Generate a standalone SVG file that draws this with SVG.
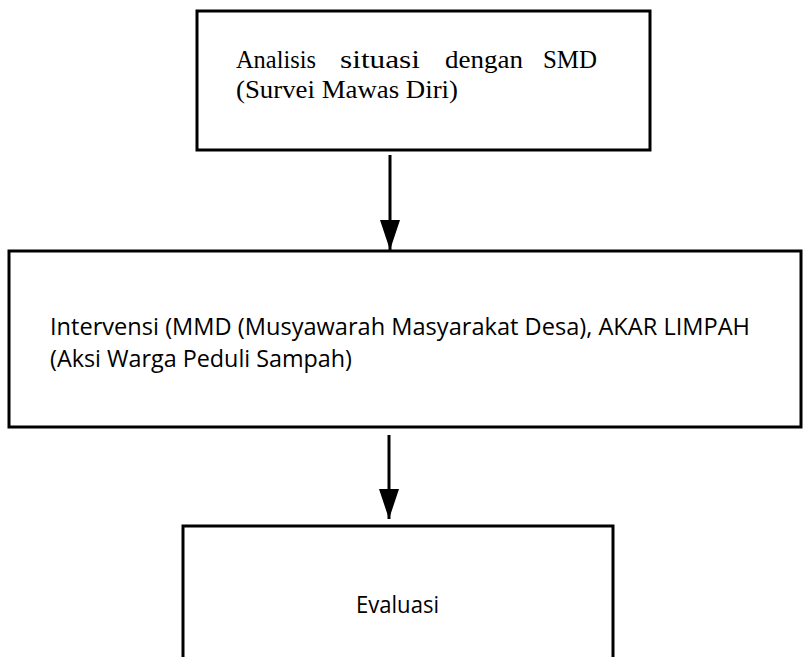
<svg xmlns="http://www.w3.org/2000/svg" width="803" height="657" viewBox="0 0 803 657">
<style>
.box{fill:#fff;stroke:#000;stroke-width:3}
.serif{font-family:"Liberation Serif","DejaVu Serif",serif;font-size:26px;fill:#000}
.sans{font-family:"Open Sans","Noto Sans",sans-serif;font-size:23px;fill:#000}
.line{stroke:#000;stroke-width:3;fill:none}
</style>
<defs>
<marker id="ah" viewBox="0 0 30 20" refX="30" refY="10" markerWidth="30" markerHeight="20" markerUnits="userSpaceOnUse" orient="auto">
<path d="M0,0 L30,10 L0,20 Z" fill="#000"/>
</marker>
</defs>
<rect width="803" height="657" fill="#fff"/>
<g id="node-analisis">
<rect class="box" x="197" y="11" width="453" height="139"/>
<text class="serif" y="68"><tspan x="236" textLength="80" lengthAdjust="spacingAndGlyphs">Analisis</tspan> <tspan x="340" textLength="80" lengthAdjust="spacingAndGlyphs">situasi</tspan> <tspan x="445" textLength="78" lengthAdjust="spacingAndGlyphs">dengan</tspan> <tspan x="543" textLength="54" lengthAdjust="spacingAndGlyphs">SMD</tspan></text>
<text class="serif" x="236" y="98" textLength="222" lengthAdjust="spacingAndGlyphs">(Survei Mawas Diri)</text>
</g>
<g id="node-intervensi">
<rect class="box" x="9" y="251" width="792" height="176"/>
<text class="sans" x="50" y="335" textLength="700" lengthAdjust="spacingAndGlyphs">Intervensi (MMD (Musyawarah Masyarakat Desa), AKAR LIMPAH</text>
<text class="sans" x="50" y="367" textLength="302" lengthAdjust="spacingAndGlyphs">(Aksi Warga Peduli Sampah)</text>
</g>
<g id="node-evaluasi">
<rect class="box" x="183" y="526" width="430" height="140"/>
<text class="sans" x="397.5" y="613" text-anchor="middle" textLength="83" lengthAdjust="spacingAndGlyphs">Evaluasi</text>
</g>
<g id="connectors">
<line class="line" x1="390" y1="155" x2="390" y2="250" marker-end="url(#ah)"/>
<line class="line" x1="389" y1="435" x2="389" y2="519" marker-end="url(#ah)"/>
</g>
</svg>
